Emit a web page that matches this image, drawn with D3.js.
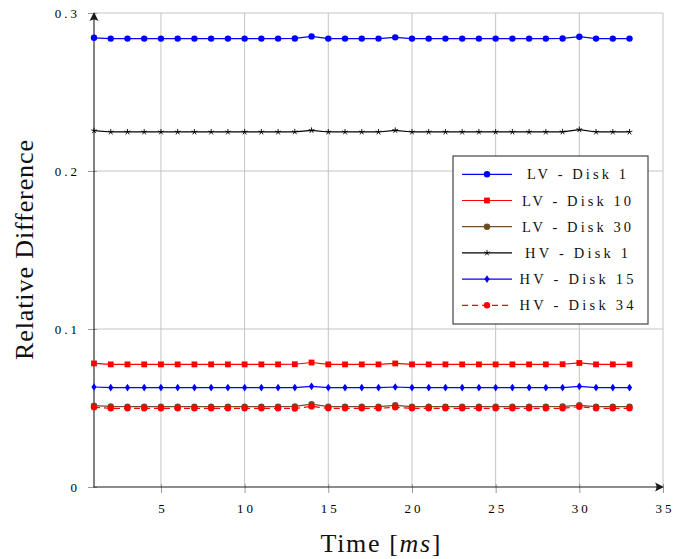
<!DOCTYPE html>
<html>
<head>
<meta charset="utf-8">
<script src="https://cdn.jsdelivr.net/npm/d3@7"></script>
<style>
  html, body { margin: 0; padding: 0; background: #fff; }
  svg { display: block; }
</style>
</head>
<body>
<svg id="chart" width="683" height="559"></svg>
<script>
// ---------- data ----------
const times = [1,2,3,4,5,6,7,8,9,10,11,12,13,14,15,16,17,18,19,20,21,22,23,24,25,26,27,28,29,30,31,32,33];
const xTicks = [5,10,15,20,25,30,35];
const yTicks = [0,0.1,0.2,0.3];
const yTickLabels = ["0","0.1","0.2","0.3"];
const seriesNames = ["LV - Disk 1","LV - Disk 10","LV - Disk 30","HV - Disk 1","HV - Disk 15","HV - Disk 34"];

const lvDisk1  = [0.2843,0.2838,0.2838,0.2838,0.2838,0.2838,0.2838,0.2838,0.2838,0.2838,0.2838,0.2838,0.2839,0.2852,0.2838,0.2838,0.2838,0.2838,0.2846,0.2838,0.2838,0.2838,0.2838,0.2838,0.2838,0.2838,0.2838,0.2838,0.2839,0.2850,0.2838,0.2838,0.2838];
const lvDisk10 = [0.0782,0.0776,0.0776,0.0776,0.0776,0.0776,0.0776,0.0776,0.0776,0.0776,0.0776,0.0776,0.0777,0.0788,0.0776,0.0776,0.0776,0.0776,0.0782,0.0776,0.0776,0.0776,0.0776,0.0776,0.0776,0.0776,0.0776,0.0776,0.0777,0.0785,0.0776,0.0776,0.0776];
const lvDisk30 = [0.0515,0.0510,0.0509,0.0509,0.0509,0.0509,0.0509,0.0509,0.0509,0.0509,0.0509,0.0509,0.0510,0.0524,0.0509,0.0509,0.0509,0.0509,0.0517,0.0509,0.0509,0.0509,0.0509,0.0509,0.0509,0.0509,0.0509,0.0509,0.0510,0.0517,0.0509,0.0509,0.0509];
const hvDisk1  = [0.2255,0.2247,0.2247,0.2247,0.2247,0.2247,0.2247,0.2247,0.2247,0.2247,0.2247,0.2247,0.2248,0.2257,0.2247,0.2247,0.2247,0.2247,0.2257,0.2247,0.2247,0.2247,0.2247,0.2247,0.2247,0.2247,0.2247,0.2247,0.2248,0.2262,0.2247,0.2247,0.2247];
const hvDisk15 = [0.0633,0.0629,0.0629,0.0629,0.0629,0.0629,0.0629,0.0629,0.0629,0.0629,0.0629,0.0629,0.0629,0.0637,0.0629,0.0629,0.0629,0.0629,0.0633,0.0629,0.0629,0.0629,0.0629,0.0629,0.0629,0.0629,0.0629,0.0629,0.0629,0.0637,0.0629,0.0629,0.0629];
const hvDisk34 = [0.0504,0.0498,0.0498,0.0498,0.0498,0.0498,0.0498,0.0498,0.0498,0.0498,0.0498,0.0498,0.0497,0.0510,0.0498,0.0498,0.0498,0.0498,0.0504,0.0498,0.0498,0.0498,0.0498,0.0498,0.0498,0.0498,0.0498,0.0498,0.0498,0.0508,0.0498,0.0498,0.0498];
const seriesValues = [lvDisk1, lvDisk10, lvDisk30, hvDisk1, hvDisk15, hvDisk34];

// ---------- styles ----------
const styles = [
  {color:"#0000ff", mark:"circle", dash:null},
  {color:"#ff0000", mark:"square", dash:null},
  {color:"#734d26", mark:"otimes", dash:null},
  {color:"#000000", mark:"star", dash:null},
  {color:"#0000ff", mark:"diamond", dash:null},
  {color:"#ff0000", mark:"circle", dash:"6,4"}
];
const legendWidths = [99,109,109,103,114,114];

const svg = d3.select("#chart");
const serif = "Liberation Serif";

const x = d3.scaleLinear().domain([1,35]).range([94,663]);
const y = d3.scaleLinear().domain([0,0.3]).range([487,13]);

// grid
const grid = svg.append("g");
grid.selectAll("line.vx").data(xTicks).join("line")
  .attr("x1", d=>x(d)).attr("x2", d=>x(d)).attr("y1", y(0)).attr("y2", y(0.3))
  .attr("stroke", "#c4c4c4").attr("stroke-width", 1);
grid.selectAll("line.hy").data(yTicks.filter(d=>d>0)).join("line")
  .attr("x1", x(1)).attr("x2", x(35)).attr("y1", d=>y(d)).attr("y2", d=>y(d))
  .attr("stroke", "#c4c4c4").attr("stroke-width", 1);

// axes with d3 axis generators (ticks only, styled)
const xAxis = svg.append("g").attr("transform", `translate(0,${y(0)})`)
  .call(d3.axisBottom(x).tickValues(xTicks).tickSize(6).tickFormat(d3.format("d")));
xAxis.attr("font-family", serif).attr("font-size", 13);
xAxis.select(".domain").remove();
xAxis.selectAll(".tick line").attr("stroke", "#999").attr("y1", -3);
xAxis.selectAll(".tick text")
  .style("font-family", serif).attr("font-size", 13).attr("fill", "#000")
  .attr("letter-spacing", "3px").attr("dx", "1.5px")
  .attr("y", 26).attr("dy", 0);

const yAxis = svg.append("g").attr("transform", `translate(${x(1)},0)`)
  .call(d3.axisLeft(y).tickValues(yTicks).tickSize(6).tickFormat((d,i)=>yTickLabels[i]));
yAxis.attr("font-family", serif).attr("font-size", 13);
yAxis.select(".domain").remove();
yAxis.selectAll(".tick line").attr("stroke", "#999").attr("x1", 3);
yAxis.selectAll(".tick text")
  .style("font-family", serif).attr("font-size", 13).attr("fill", "#000")
  .attr("letter-spacing", "3px").attr("x", -14).attr("dy", "0.32em");

// axis lines with arrows
const axisColor = "#1a1a1a";
svg.append("line").attr("x1", x(1)).attr("x2", x(1)).attr("y1", y(0)).attr("y2", y(0.3)+3)
  .attr("stroke", axisColor).attr("stroke-width", 1.1);
svg.append("line").attr("x1", x(1)-0.5).attr("x2", x(35)-3).attr("y1", y(0)).attr("y2", y(0))
  .attr("stroke", axisColor).attr("stroke-width", 1.1);
// arrowheads
svg.append("path")
  .attr("d", "M0,0 L-9,-4.5 Q-6,0 -9,4.5 Z")
  .attr("transform", `translate(${x(35)+1},${y(0)})`)
  .attr("fill", axisColor);
svg.append("path")
  .attr("d", "M0,0 L-9,-4.5 Q-6,0 -9,4.5 Z")
  .attr("transform", `translate(${x(1)},${y(0.3)-1}) rotate(-90)`)
  .attr("fill", axisColor);

// axis titles
svg.append("text")
  .attr("x", (x(1)+x(35))/2 + 2).attr("y", 552)
  .attr("text-anchor", "middle")
  .style("font-family", serif).attr("font-size", 26).attr("fill", "#111")
  .attr("textLength", 120).attr("lengthAdjust", "spacing")
  .html('Time [<tspan font-style="italic">ms</tspan>]');
svg.append("text")
  .attr("transform", `translate(33,${(y(0)+y(0.3))/2}) rotate(-90)`)
  .attr("text-anchor", "middle")
  .style("font-family", serif).attr("font-size", 26).attr("fill", "#111")
  .attr("textLength", 220).attr("lengthAdjust", "spacing")
  .text("Relative Difference");

// marker drawing
function drawMark(g, type, color, cx, cy) {
  if (type === "circle") {
    g.append("circle").attr("cx", cx).attr("cy", cy).attr("r", 3.2).attr("fill", color);
  } else if (type === "otimes") {
    g.append("circle").attr("cx", cx).attr("cy", cy).attr("r", 3.2).attr("fill", color);
    const k = 2.0;
    g.append("path").attr("d", `M${cx-k},${cy-k}L${cx+k},${cy+k}M${cx-k},${cy+k}L${cx+k},${cy-k}`)
      .attr("stroke", "#5a3c1e").attr("stroke-width", 0.5);
  } else if (type === "square") {
    g.append("rect").attr("x", cx-2.9).attr("y", cy-2.9).attr("width", 5.8).attr("height", 5.8).attr("fill", color);
  } else if (type === "diamond") {
    g.append("path").attr("d", `M${cx},${cy-3.8}L${cx+2.6},${cy}L${cx},${cy+3.8}L${cx-2.6},${cy}Z`).attr("fill", color);
  } else if (type === "star") {
    const r = 3.0;
    let d = "";
    for (let i = 0; i < 5; i++) {
      const a = -Math.PI/2 + i*2*Math.PI/5;
      d += `M${cx},${cy}L${cx + r*Math.cos(a)},${cy + r*Math.sin(a)}`;
    }
    g.append("path").attr("d", d).attr("stroke", color).attr("stroke-width", 0.9).attr("fill", "none");
  }
}

// series
const line = d3.line().x(d=>x(d[0])).y(d=>y(d[1]));
seriesValues.forEach((vals, i) => {
  const st = styles[i];
  const pts = times.map((t, j) => [t, vals[j]]);
  const g = svg.append("g");
  g.append("path").datum(pts).attr("d", line)
    .attr("fill", "none").attr("stroke", st.color).attr("stroke-width", 1.2)
    .attr("stroke-dasharray", st.dash);
  pts.forEach(p => drawMark(g, st.mark, st.color, x(p[0]), y(p[1])));
});

// legend
const lg = svg.append("g");
lg.append("rect").attr("x", 453).attr("y", 156).attr("width", 195).attr("height", 168)
  .attr("fill", "#fff").attr("stroke", "#333").attr("stroke-width", 1.1);
seriesNames.forEach((name, i) => {
  const st = styles[i];
  const cy = 174.3 + i*26.2;
  lg.append("line").attr("x1", 462).attr("x2", 512).attr("y1", cy).attr("y2", cy)
    .attr("stroke", st.color).attr("stroke-width", 1.2).attr("stroke-dasharray", st.dash);
  drawMark(lg, st.mark, st.color, 487, cy);
  lg.append("text").attr("x", 576.5).attr("y", cy + 5)
    .attr("text-anchor", "middle")
    .style("font-family", serif).attr("font-size", 14.5).attr("fill", "#111")
    .attr("textLength", legendWidths[i]).attr("lengthAdjust", "spacing")
    .text(name);
});
</script>
</body>
</html>
